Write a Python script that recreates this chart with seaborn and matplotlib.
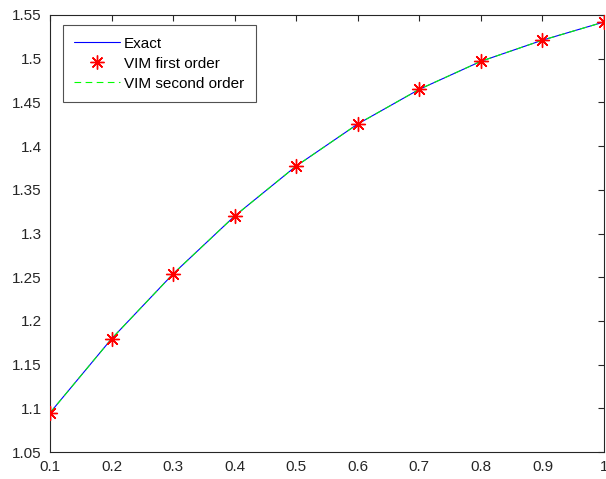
import matplotlib
matplotlib.use("Agg")
import matplotlib.pyplot as plt
import seaborn as sns
import pandas as pd
from matplotlib.lines import Line2D

x_vals = [0.1, 0.2, 0.3, 0.4, 0.5, 0.6, 0.7, 0.8, 0.9, 1.0]
exact = [1.0948, 1.1795, 1.2538, 1.3200, 1.3772, 1.4253, 1.4650, 1.4970, 1.5212, 1.5420]
vim_first = [1.0948, 1.1795, 1.2538, 1.3200, 1.3772, 1.4253, 1.4650, 1.4970, 1.5212, 1.5420]
vim_second = [1.0948, 1.1795, 1.2538, 1.3200, 1.3772, 1.4253, 1.4650, 1.4970, 1.5212, 1.5420]
x_ticks = [0.1, 0.2, 0.3, 0.4, 0.5, 0.6, 0.7, 0.8, 0.9, 1.0]
x_tick_labels = ["0.1", "0.2", "0.3", "0.4", "0.5", "0.6", "0.7", "0.8", "0.9", "1"]
y_ticks = [1.05, 1.1, 1.15, 1.2, 1.25, 1.3, 1.35, 1.4, 1.45, 1.5, 1.55]
y_tick_labels = ["1.05", "1.1", "1.15", "1.2", "1.25", "1.3", "1.35", "1.4", "1.45", "1.5", "1.55"]

sns.set_style("white")
plt.rcParams["font.family"] = ["Liberation Sans", "DejaVu Sans"]

df = pd.DataFrame({"x": x_vals, "exact": exact, "first": vim_first, "second": vim_second})

fig = plt.figure(figsize=(6.06, 4.79), dpi=100)
ax = fig.add_axes([50 / 606, 1 - 452 / 479, 554 / 606, 437 / 479])

asterisk = (8, 2, 0)
sns.lineplot(data=df, x="x", y="exact", ax=ax, color="#0000ff", linewidth=0.8, legend=False)
sns.scatterplot(data=df, x="x", y="first", ax=ax, color="red", marker=asterisk, s=100,
                linewidth=1.0, legend=False, zorder=3)
sns.lineplot(data=df, x="x", y="second", ax=ax, color="#00ff00", linewidth=0.8,
             linestyle=(0, (6, 4)), legend=False)

ax.set_xlim(0.1, 1.0)
ax.set_ylim(1.05, 1.55)
ax.set_xticks(x_ticks)
ax.set_xticklabels(x_tick_labels)
ax.set_yticks(y_ticks)
ax.set_yticklabels(y_tick_labels)
ax.set_xlabel("")
ax.set_ylabel("")

dark = "#262626"
for sp in ax.spines.values():
    sp.set_visible(True)
    sp.set_color(dark)
    sp.set_linewidth(0.8)
ax.tick_params(direction="in", length=4, width=0.8, colors=dark, labelsize=11,
               top=True, right=True, labeltop=False, labelright=False, pad=6)

handles = [
    Line2D([], [], color="#0000ff", linewidth=0.8),
    Line2D([], [], color="red", marker=asterisk, linestyle="none", markersize=10, markeredgewidth=1.0),
    Line2D([], [], color="#00ff00", linewidth=0.8, linestyle=(0, (6, 4))),
]
leg = ax.legend(handles, ["Exact", "VIM first order", "VIM second order"], loc="upper left",
                bbox_to_anchor=(0.0235, 0.977), borderaxespad=0, fancybox=False, frameon=True,
                fontsize=11, handlelength=3.0, borderpad=0.75, labelspacing=0.4, handletextpad=0.25)
leg.get_frame().set_edgecolor(dark)
leg.get_frame().set_linewidth(0.8)
for t in leg.get_texts():
    t.set_color("#000000")

fig.savefig("out.png", dpi=100)
